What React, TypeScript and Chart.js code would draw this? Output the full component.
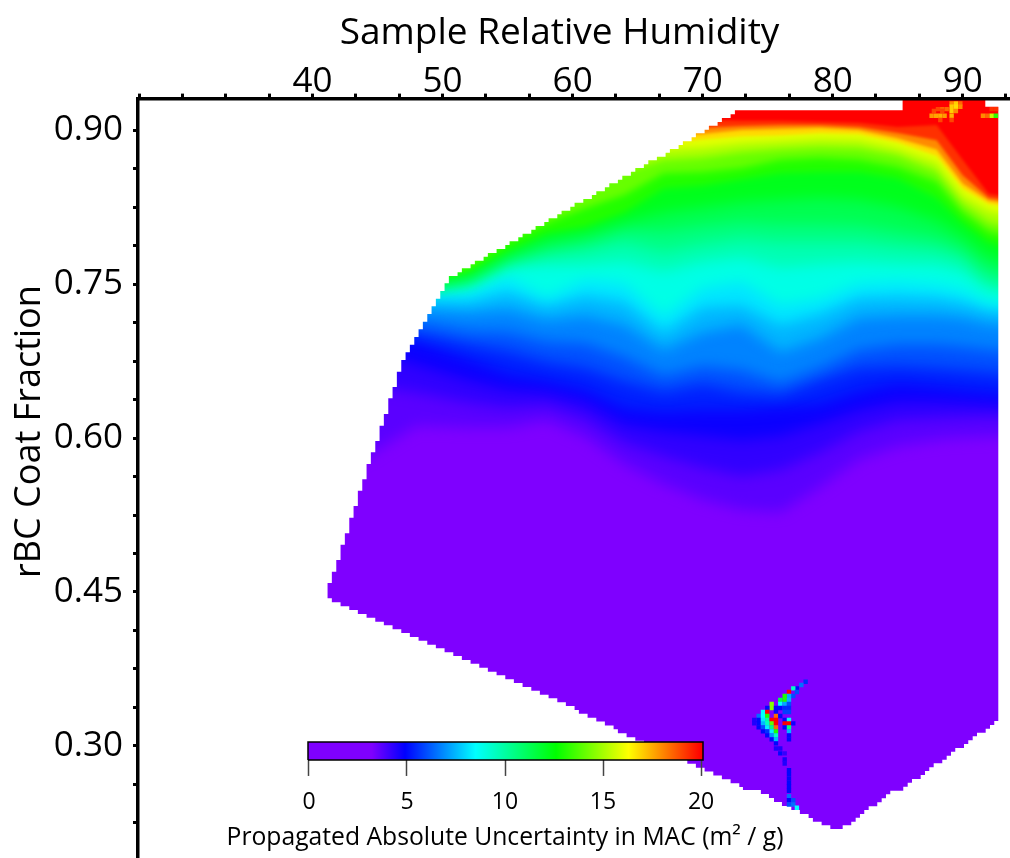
import React, { useEffect, useRef } from "react";
import { Chart, registerables } from "chart.js";

const FONT = "'Open Sans'";

// ---- axes
const rhTicks = [26.67, 30, 33.33, 36.67, 40, 43.33, 46.67, 50, 53.33, 56.67, 60, 63.33, 66.67, 70, 73.33, 76.67, 80, 83.33, 86.67, 90, 93.33];
const rhLabels = [40, 50, 60, 70, 80, 90];
const coatTicks = [0.9, 0.8625, 0.825, 0.7875, 0.75, 0.7125, 0.675, 0.6375, 0.6, 0.5625, 0.525, 0.4875, 0.45, 0.4125, 0.375, 0.3375, 0.3, 0.2625, 0.225];
const coatLabels = [0.9, 0.75, 0.6, 0.45, 0.3];
const scaleTicks = [0, 5, 10, 15, 20];

// ---- colour scale
const colorStopValues = [0, 3.2, 4.9, 8.5, 12.6, 16.3, 20];
const colorStopRgb = [[127, 0, 255], [127, 0, 255], [0, 0, 255], [0, 255, 255], [0, 255, 0], [255, 255, 0], [255, 0, 0]];

// ---- field: coat fraction of each uncertainty level, read at each humidity
const fieldRH = [40, 44, 48, 52, 55, 58, 61, 64, 67, 70, 73, 76, 79, 82, 85, 88, 90, 92, 96];
const levels = [3.4, 4.0, 4.5, 5.0, 5.7, 6.4, 7.1, 7.8, 8.5, 9.3, 10.1, 10.9, 11.7, 12.6, 13.6, 14.6, 15.5, 16.3, 17.4, 18.6, 20];
const level34 = [.569, .581, .612, .610, .610, .617, .601, .574, .555, .540, .530, .528, .552, .579, .592, .598, .600, .601, .603];
const level40 = [.656, .652, .644, .634, .629, .632, .619, .595, .582, .571, .563, .569, .586, .606, .617, .619, .620, .621, .619];
const level45 = [.695, .686, .671, .656, .647, .644, .634, .613, .606, .602, .598, .602, .614, .627, .635, .635, .634, .633, .629];
const level50 = [.715, .705, .693, .676, .662, .656, .647, .629, .625, .627, .627, .630, .633, .645, .653, .650, .647, .645, .641];
const level57 = [.721, .713, .702, .691, .684, .674, .668, .655, .645, .652, .645, .642, .656, .668, .670, .668, .666, .664, .660];
const level64 = [.727, .722, .713, .704, .703, .694, .692, .679, .661, .670, .666, .654, .668, .686, .691, .691, .689, .686, .682];
const level71 = [.734, .731, .726, .722, .725, .715, .719, .710, .686, .703, .710, .684, .697, .717, .719, .719, .717, .711, .707];
const level78 = [.739, .738, .735, .733, .742, .729, .738, .732, .703, .727, .729, .710, .720, .736, .737, .736, .732, .725, .721];
const level85 = [.744, .744, .742, .743, .756, .738, .754, .750, .719, .746, .752, .730, .736, .750, .752, .749, .744, .732, .729];
const level93 = [.745, .745, .744, .748, .766, .768, .768, .771, .762, .771, .775, .766, .769, .771, .769, .768, .762, .744, .736];
const level101 = [.746, .746, .745, .752, .771, .778, .783, .790, .781, .788, .793, .790, .790, .790, .786, .783, .775, .753, .746];
const level109 = [.747, .747, .746, .755, .775, .786, .792, .803, .801, .806, .810, .808, .808, .807, .801, .795, .785, .764, .758];
const level117 = [.748, .749, .748, .758, .779, .793, .800, .811, .820, .825, .830, .832, .834, .832, .825, .812, .797, .777, .769];
const level126 = [.749, .751, .750, .762, .783, .800, .806, .820, .843, .846, .852, .858, .859, .859, .853, .834, .810, .791, .778];
const level136 = [.751, .753, .754, .768, .793, .810, .824, .837, .858, .859, .863, .871, .873, .871, .864, .849, .820, .801, .788];
const level146 = [.754, .756, .760, .778, .807, .827, .845, .859, .871, .873, .878, .881, .883, .882, .875, .859, .828, .810, .798];
const level155 = [.757, .760, .768, .793, .822, .842, .861, .876, .881, .883, .887, .889, .891, .890, .882, .868, .836, .821, .810];
const level163 = [.760, .764, .775, .804, .834, .853, .873, .885, .887, .891, .894, .895, .897, .896, .888, .875, .843, .828, .820];
const level174 = [.764, .769, .785, .814, .842, .861, .881, .890, .894, .896, .900, .901, .902, .900, .892, .881, .848, .831, .824];
const level186 = [.768, .774, .793, .824, .849, .868, .887, .895, .900, .902, .904, .905, .905, .903, .897, .890, .856, .834, .827];
const level200 = [.771, .779, .801, .832, .857, .875, .894, .900, .906, .910, .909, .909, .908, .907, .903, .905, .871, .838, .830];
const levelRows = [level34, level40, level45, level50, level57, level64, level71, level78, level85, level93, level101, level109, level117, level126, level136, level146, level155, level163, level174, level186, level200];

// ---- edge of the sampled region (humidity where a step starts, coat fraction of the step)
const upperEdgeRH = [41.15, 41.48, 41.82, 42.15, 42.48, 42.82, 43.15, 43.48, 43.82, 44.15, 44.48, 44.82, 45.15, 45.48, 45.82, 46.15, 46.48, 46.82, 47.15, 47.48, 47.82, 48.15, 48.48, 48.82, 49.15, 49.48, 49.82, 50.15, 50.48, 51.15, 51.48, 52.15, 52.48, 53.15, 53.48, 54.15, 54.82, 55.15, 55.82, 56.15, 56.82, 57.15, 57.82, 58.15, 58.82, 59.15, 59.82, 60.15, 60.82, 61.48, 61.82, 62.48, 62.82, 63.48, 63.82, 64.48, 64.82, 65.48, 65.82, 66.48, 67.15, 67.48, 68.15, 68.48, 69.15, 69.48, 70.15, 70.48, 71.15, 71.48, 72.15, 72.48, 85.38, 91.74, 92.74];
const upperEdgeCoat = [.4588, .4698, .4812, .4961, .5072, .5224, .5338, .5487, .5598, .5747, .5861, .5971, .6120, .6234, .6387, .6497, .6646, .6760, .6835, .6909, .6984, .7059, .7133, .7208, .7283, .7357, .7432, .7507, .7578, .7614, .7653, .7692, .7727, .7766, .7802, .7841, .7880, .7916, .7955, .7990, .8029, .8065, .8104, .8140, .8179, .8214, .8253, .8292, .8328, .8367, .8403, .8442, .8481, .8516, .8555, .8594, .8630, .8666, .8705, .8740, .8779, .8815, .8854, .8890, .8929, .8968, .9003, .9042, .9078, .9117, .9153, .9192, .9310, .9227, .9227];
const lowerEdgeRH = [41.15, 41.48, 42.15, 42.82, 43.48, 44.15, 44.82, 45.48, 46.15, 46.82, 47.48, 48.15, 48.82, 49.48, 50.15, 50.82, 51.48, 52.15, 52.82, 53.48, 54.15, 54.82, 55.48, 56.15, 56.82, 57.48, 58.15, 58.82, 59.48, 60.15, 60.48, 61.15, 61.82, 62.48, 63.15, 63.48, 64.15, 64.82, 65.49, 66.15, 66.82, 67.48, 68.15, 68.82, 69.48, 70.15, 70.82, 71.48, 72.15, 72.82, 73.10, 74.48, 75.10, 75.49, 76.10, 76.82, 77.48, 78.15, 78.48, 79.15, 79.82, 80.77, 81.43, 81.77, 82.10, 82.43, 82.77, 83.43, 83.77, 84.10, 84.43, 85.43, 85.77, 86.10, 86.77, 87.10, 87.43, 87.77, 88.43, 88.77, 89.10, 89.43, 90.10, 90.43, 90.77, 91.10, 91.77, 92.10, 92.43, 92.74];
const lowerEdgeCoat = [.4439, .4400, .4361, .4325, .4286, .4250, .4211, .4176, .4137, .4101, .4062, .4026, .3987, .3952, .3913, .3877, .3838, .3802, .3763, .3724, .3689, .3650, .3614, .3575, .3539, .3500, .3464, .3425, .3389, .3350, .3314, .3275, .3239, .3200, .3164, .3125, .3086, .3052, .3014, .2977, .2939, .2901, .2864, .2826, .2788, .2751, .2713, .2675, .2637, .2601, .2571, .2532, .2493, .2455, .2416, .2377, .2338, .2299, .2263, .2228, .2192, .2228, .2263, .2302, .2338, .2377, .2412, .2451, .2490, .2529, .2564, .2603, .2642, .2678, .2717, .2756, .2792, .2831, .2866, .2905, .2944, .2980, .3019, .3055, .3094, .3130, .3168, .3204, .3243, .3243];

// ---- single noisy cells near the lower tip
const spikeRH = [77.92, 77.59, 77.25, 76.97, 77.25, 76.64, 76.97, 76.64, 76.31, 75.97, 76.31, 76.64, 75.97, 76.31, 76.64, 75.31, 75.31, 74.97, 75.64, 75.97, 76.31, 76.64, 74.64, 74.97, 75.64, 76.31, 76.64, 74.31, 74.64, 74.97, 75.64, 75.97, 73.97, 74.31, 74.64, 74.97, 75.31, 75.64, 76.31, 76.64, 73.97, 74.31, 74.64, 74.97, 75.31, 75.64, 76.31, 76.64, 76.97, 74.31, 74.64, 74.97, 75.31, 75.64, 76.31, 76.64, 74.64, 74.97, 75.31, 75.64, 76.64, 74.97, 75.31, 75.64, 76.64, 75.31, 75.64, 76.64, 75.64, 75.64, 75.97, 75.97, 76.31, 76.31, 76.31, 76.64, 76.64, 76.64, 76.64, 76.64, 76.64, 76.64, 76.64, 76.97, 76.64, 76.97, 77.25];
const spikeCoat = [.3626, .3594, .3561, .3561, .3526, .3526, .3487, .3487, .3487, .3448, .3448, .3448, .3409, .3409, .3409, .3409, .3370, .3370, .3370, .3370, .3370, .3370, .3331, .3331, .3331, .3331, .3331, .3292, .3292, .3292, .3292, .3292, .3253, .3253, .3253, .3253, .3253, .3253, .3253, .3253, .3220, .3220, .3220, .3220, .3220, .3220, .3220, .3220, .3220, .3181, .3181, .3181, .3181, .3181, .3181, .3181, .3142, .3142, .3142, .3142, .3142, .3103, .3103, .3103, .3103, .3064, .3064, .3064, .3025, .2976, .2976, .2928, .2928, .2869, .2830, .2765, .2726, .2684, .2642, .2603, .2563, .2512, .2473, .2473, .2430, .2430, .2398];
const spikeValue = [5.5, 6.5, 5, 9.5, 6, 20, 6, 7.3, 13, 11.5, 13, 7.5, 8.5, 7.3, 6, 14.5, 14.5, 5, 5, 5, 5.5, 5.5, 8.5, 20, 5, 5.8, 5.8, 6.5, 8.5, 13, 18.5, 5, 4.5, 5, 8.2, 10, 20, 20, 5, 8.5, 4.5, 5, 7.5, 9.5, 14, 20, 20, 20, 4.7, 5, 6, 8.3, 10.5, 18.5, 5, 10.5, 5, 5.6, 8.3, 13, 7.5, 5, 7, 9.5, 5, 5, 7.5, 5, 5, 4.5, 4.5, 5, 4.2, 4.6, 4.5, 5, 5, 5, 5, 5, 5, 6.5, 5, 6, 6, 6.5, 8.5];

// ---- single noisy cells near the upper right corner
const hotRH = [89.15, 89.48, 89.82, 88.10, 88.43, 88.77, 89.15, 89.48, 89.82, 87.79, 88.43, 89.15, 89.48, 87.61, 87.95, 88.28, 88.61, 89.15, 89.15, 88.28, 91.56, 91.89, 92.23, 92.56, 92.23, 92.56];
const hotCoat = [.9259, .9259, .9259, .9204, .9204, .9204, .9227, .9227, .9227, .9185, .9185, .9185, .9185, .9139, .9139, .9139, .9139, .9139, .9097, .9097, .9139, .9139, .9139, .9139, .9204, .9204];
const hotValue = [18, 17, 18.5, 19, 18.5, 18.5, 17, 16.8, 18, 19, 19, 17, 18, 17.8, 17.6, 17.5, 17.8, 17.4, 19, 19, 18, 18.5, 15.5, 13.2, 19.3, 19.3];

const RH_MIN = 26.57;
const RH_MAX = 93.64;
const COAT_MIN = 0.1909;
const COAT_MAX = 0.9306;

function colorAt(v: number) {
  let i = 0;
  while (i < colorStopValues.length - 2 && v > colorStopValues[i + 1]) i++;
  const t = Math.min(1, Math.max(0, (v - colorStopValues[i]) / (colorStopValues[i + 1] - colorStopValues[i])));
  const a = colorStopRgb[i];
  const b = colorStopRgb[i + 1];
  return `rgb(${a.map((c, k) => Math.round(c + (b[k] - c) * t)).join(",")})`;
}

const softenPlugin = {
  id: "softenBands",
  beforeDatasetDraw(chart: any, args: any) {
    const blur = chart.data.datasets[args.index].blurPx;
    chart.ctx.filter = blur ? `blur(${blur}px)` : "none";
  },
  afterDatasetDraw(chart: any) {
    chart.ctx.filter = "none";
  },
};

Chart.register(softenPlugin, ...registerables);

function zipXY(xs: number[], ys: number[]) {
  return xs.map((x, i) => ({ x, y: ys[i] }));
}

export default function App() {
  const mainRef = useRef<HTMLCanvasElement>(null);
  const barRef = useRef<HTMLCanvasElement>(null);

  useEffect(() => {
    document.body.style.margin = "0";
    const bands = levels.map((lv, k) => ({
      data: zipXY(fieldRH, levelRows[k]),
      backgroundColor: colorAt(k + 1 < levels.length ? (lv + levels[k + 1]) / 2 : lv),
      fill: "end",
      borderWidth: 0,
      pointRadius: 0,
      order: 100 - k,
      blurPx: lv < 12.6 ? 7 : lv < 16.3 ? 3.5 : 1.5,
    }));
    const main = new Chart(mainRef.current!, {
      type: "line",
      data: {
        datasets: [
          {
            data: zipXY([RH_MIN, RH_MAX], [COAT_MIN, COAT_MIN]),
            backgroundColor: colorAt(0),
            fill: "end",
            borderWidth: 0,
            pointRadius: 0,
            order: 200,
          },
          ...bands,
          {
            data: [
              { x: RH_MIN, y: COAT_MIN },
              { x: upperEdgeRH[0], y: COAT_MIN },
              ...zipXY(upperEdgeRH, upperEdgeCoat),
              { x: upperEdgeRH[upperEdgeRH.length - 1], y: COAT_MIN },
              { x: RH_MAX, y: COAT_MIN },
            ],
            backgroundColor: "#ffffff",
            fill: "end",
            stepped: true,
            borderWidth: 0,
            pointRadius: 0,
            order: 3,
          },
          {
            data: [
              { x: RH_MIN, y: lowerEdgeCoat[0] },
              ...zipXY(lowerEdgeRH, lowerEdgeCoat),
              { x: RH_MAX, y: lowerEdgeCoat[lowerEdgeCoat.length - 1] },
            ],
            backgroundColor: "#ffffff",
            fill: "start",
            stepped: true,
            borderWidth: 0,
            pointRadius: 0,
            order: 2,
          },
          {
            data: zipXY(spikeRH, spikeCoat),
            showLine: false,
            pointStyle: "rect",
            pointRadius: 3.1,
            pointBorderWidth: 0,
            pointBackgroundColor: spikeValue.map(colorAt),
            order: 1,
          },
          {
            data: zipXY(hotRH, hotCoat),
            showLine: false,
            pointStyle: "rect",
            pointRadius: 3.1,
            pointBorderWidth: 0,
            pointBackgroundColor: hotValue.map(colorAt),
            order: 0,
          },
        ] as any,
      },
      options: {
        responsive: false,
        animation: false,
        events: [],
        layout: { padding: 0, autoPadding: false },
        plugins: { legend: { display: false }, tooltip: { enabled: false } },
        scales: {
          x: {
            type: "linear",
            position: "top",
            min: RH_MIN,
            max: RH_MAX,
            afterFit(s: any) {
              s.height = 98.6;
              s.paddingLeft = 0;
              s.paddingRight = 0;
            },
            afterBuildTicks(s: any) {
              s.ticks = rhTicks.map((value) => ({ value }));
            },
            border: { color: "#000", width: 3.5, z: 2 },
            grid: { drawOnChartArea: false, color: "#000", tickLength: 5, tickWidth: 3, z: 2 },
            ticks: {
              autoSkip: false,
              maxRotation: 0,
              color: "#000",
              padding: -9,
              font: { family: FONT, size: 35 },
              callback: (v: any) => (rhLabels.includes(Number(v)) ? String(v) : ""),
            },
            title: {
              display: true,
              text: "Sample Relative Humidity   ",
              color: "#000",
              font: { family: FONT, size: 37 },
              padding: { top: 11, bottom: 0 },
            },
          },
          y: {
            type: "linear",
            min: COAT_MIN,
            max: COAT_MAX,
            afterFit(s: any) {
              s.width = 138;
              s.paddingTop = 0;
              s.paddingBottom = 0;
            },
            afterBuildTicks(s: any) {
              s.ticks = coatTicks.map((value) => ({ value }));
            },
            border: { color: "#000", width: 3.5, z: 2 },
            grid: { drawOnChartArea: false, color: "#000", tickLength: 5, tickWidth: 3, z: 2 },
            ticks: {
              autoSkip: false,
              color: "#000",
              padding: 10,
              font: { family: FONT, size: 35 },
              callback: (v: any) => (coatLabels.includes(Number(v)) ? Number(v).toFixed(2) : ""),
            },
            title: {
              display: true,
              text: "          rBC Coat Fraction",
              color: "#000",
              font: { family: FONT, size: 36 },
              padding: { top: 8, bottom: 0 },
            },
          },
        },
      } as any,
    });

    const bar = new Chart(barRef.current!, {
      type: "line",
      data: {
        datasets: [
          {
            data: zipXY([-0.05, 20.1], [1, 1]),
            fill: "start",
            borderWidth: 0,
            pointRadius: 0,
            backgroundColor(c: any) {
              const { chart } = c;
              const xs = chart.scales.x;
              if (!chart.chartArea || !xs) return colorAt(10);
              const g = chart.ctx.createLinearGradient(xs.getPixelForValue(0), 0, xs.getPixelForValue(20), 0);
              colorStopValues.forEach((v) => g.addColorStop(v / 20, colorAt(v)));
              return g;
            },
            order: 1,
          },
          {
            data: zipXY([-0.05, -0.05, 20.1, 20.1, -0.05], [0, 1, 1, 0, 0]),
            borderColor: "#000",
            borderWidth: 1.5,
            pointRadius: 0,
            fill: false,
            clip: false,
            order: 0,
          },
        ] as any,
      },
      options: {
        responsive: false,
        animation: false,
        events: [],
        layout: { padding: { top: 742 }, autoPadding: false },
        plugins: {
          legend: { display: false },
          tooltip: { enabled: false },
          title: {
            display: true,
            position: "bottom",
            text: "Propagated Absolute Uncertainty in MAC (m² / g)",
            color: "#000",
            font: { family: FONT, size: 24.7, weight: "normal", lineHeight: 1.2 },
            padding: { top: 0, bottom: 5 },
          },
        },
        scales: {
          x: {
            type: "linear",
            min: -0.05,
            max: 20.1,
            afterFit(s: any) {
              s.height = 63.4;
              s.paddingLeft = 0;
              s.paddingRight = 0;
            },
            afterBuildTicks(s: any) {
              s.ticks = scaleTicks.map((value) => ({ value }));
            },
            border: { display: false },
            grid: { drawOnChartArea: false, color: "#444", tickLength: 16, tickWidth: 1.5 },
            ticks: {
              autoSkip: false,
              maxRotation: 0,
              color: "#000",
              padding: 13,
              font: { family: FONT, size: 23 },
            },
          },
          y: {
            type: "linear",
            min: 0,
            max: 1,
            afterFit(s: any) {
              s.width = 308;
              s.paddingTop = 0;
              s.paddingBottom = 0;
            },
            border: { display: false },
            grid: { display: false },
            ticks: { display: false },
          },
          yRight: {
            type: "linear",
            position: "right",
            min: 0,
            max: 1,
            afterFit(s: any) {
              s.width = 307;
              s.paddingTop = 0;
              s.paddingBottom = 0;
            },
            border: { display: false },
            grid: { display: false },
            ticks: { display: false },
          },
        },
      } as any,
    });

    return () => {
      main.destroy();
      bar.destroy();
    };
  }, []);

  return (
    <div style={{ position: "relative", width: 1010, height: 858, overflow: "hidden" }}>
      <canvas ref={mainRef} width={1010} height={858} style={{ position: "absolute", left: 0, top: 0 }} />
      <canvas ref={barRef} width={1010} height={858} style={{ position: "absolute", left: 0, top: 0 }} />
    </div>
  );
}
